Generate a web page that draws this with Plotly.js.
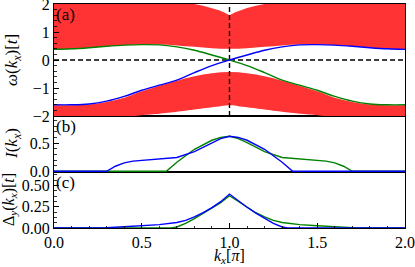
<!DOCTYPE html>
<html><head><meta charset="utf-8">
<script src="https://cdn.plot.ly/plotly-3.0.1.min.js"></script>
<style>html,body{margin:0;padding:0;background:#fff;}#chart{width:415px;height:267px;}</style>
</head><body><div id="chart"></div>
<script>
// ---- data ----
const k = [0,0.1,0.2,0.3,0.4,0.5,0.6,0.7,0.8,0.9,1.0,1.1,1.2,1.3,1.4,1.5,1.6,1.7,1.8,1.9,2.0];
// upper continuum band: lower edge (on k grid) and upper edge
const upperBandLow = [0.38,0.40,0.44,0.49,0.53,0.55,0.55,0.52,0.47,0.42,0.40,0.42,0.47,0.52,0.55,0.55,0.53,0.49,0.44,0.40,0.38];
const kTop = [0,0.8,0.85,0.9,0.94,0.97,1.0,1.03,1.06,1.1,1.15,1.2,2.0];
const upperBandTop = [2,2,1.94,1.86,1.78,1.7,1.6,1.7,1.78,1.86,1.94,2,2];
// lower continuum band: upper edge (on k grid) and lower edge
const lowerBandTop = [-1.62,-1.615,-1.59,-1.5,-1.35,-1.12,-0.92,-0.74,-0.58,-0.47,-0.43,-0.47,-0.58,-0.74,-0.92,-1.12,-1.35,-1.5,-1.59,-1.615,-1.62];
const kBot = [0,0.45,0.5,0.6,0.7,0.8,0.9,0.95,1.0,1.05,1.1,1.2,1.3,1.4,1.5,1.55,2.0];
const lowerBandBot = [-2,-2,-1.97,-1.92,-1.85,-1.77,-1.69,-1.65,-1.62,-1.65,-1.69,-1.77,-1.85,-1.92,-1.97,-2,-2];
// edge-state dispersions
const omegaGreen = [0.38,0.40,0.44,0.49,0.53,0.55,0.54,0.47,0.35,0.18,0.0,-0.2,-0.45,-0.72,-0.9,-1.08,-1.3,-1.47,-1.57,-1.6,-1.6];
const omegaBlue  = [-1.6,-1.6,-1.57,-1.47,-1.3,-1.08,-0.9,-0.72,-0.45,-0.2,0.0,0.18,0.35,0.47,0.54,0.55,0.53,0.49,0.44,0.40,0.38];
// guide lines
const zeroK = [0,2], zeroW = [0,0];
const nodeK = [1,1], nodeW = [-2,2];
// panel (b) I(kx)
const kIBlue = [0,0.3,0.35,0.4,0.45,0.5,0.6,0.7,0.8,0.9,0.95,1.0,1.05,1.1,1.2,1.3,1.36,2.0];
const IBlue  = [0,0,0.09,0.15,0.18,0.195,0.215,0.245,0.35,0.51,0.58,0.62,0.6,0.55,0.39,0.16,0,0];
const kIGreen = [0,0.64,0.7,0.8,0.9,0.95,1.0,1.05,1.1,1.2,1.3,1.4,1.5,1.55,1.6,1.65,1.7,2.0];
const IGreen  = [0,0,0.16,0.39,0.55,0.6,0.62,0.58,0.51,0.35,0.245,0.215,0.195,0.18,0.15,0.09,0,0];
// panel (c) Delta_y(kx)
const kDBlue = [0,0.2,0.3,0.4,0.5,0.6,0.7,0.75,0.8,0.85,0.9,0.95,1.0,1.05,1.1,1.15,1.2,1.25,1.3,1.33,2.0];
const DBlue  = [0,0,0.005,0.015,0.027,0.04,0.065,0.09,0.13,0.18,0.24,0.31,0.40,0.32,0.245,0.175,0.11,0.055,0.012,0,0];
const kDGreen = [0,0.67,0.7,0.75,0.8,0.85,0.9,0.95,1.0,1.05,1.1,1.15,1.2,1.25,1.3,1.4,1.5,1.6,1.7,1.8,2.0];
const DGreen  = [0,0,0.012,0.055,0.11,0.175,0.235,0.3,0.38,0.31,0.24,0.18,0.13,0.09,0.065,0.04,0.027,0.015,0.005,0,0];

const RED='#ff3333', GREEN='#008000', BLUE='#0000ff';
const traces = [
  {x:kTop, y:upperBandTop, xaxis:'x3', yaxis:'y3', mode:'lines', line:{width:0}},
  {x:k, y:upperBandLow, xaxis:'x3', yaxis:'y3', mode:'lines', line:{width:0, shape:'spline'}, fill:'tonexty', fillcolor:RED},
  {x:k, y:lowerBandTop, xaxis:'x3', yaxis:'y3', mode:'lines', line:{width:0, shape:'spline'}},
  {x:kBot, y:lowerBandBot, xaxis:'x3', yaxis:'y3', mode:'lines', line:{width:0, shape:'spline', smoothing:0.6}, fill:'tonexty', fillcolor:RED},
  {x:zeroK, y:zeroW, xaxis:'x3', yaxis:'y3', mode:'lines', line:{color:'#000', width:1.4, dash:'5px,3px'}},
  {x:nodeK, y:nodeW, xaxis:'x3', yaxis:'y3', mode:'lines', line:{color:'#000', width:1.4, dash:'5px,3px'}},
  {x:k, y:omegaGreen, xaxis:'x3', yaxis:'y3', mode:'lines', line:{color:GREEN, width:1.4, shape:'spline'}},
  {x:k, y:omegaBlue, xaxis:'x3', yaxis:'y3', mode:'lines', line:{color:BLUE, width:1.4, shape:'spline'}},
  {x:kIGreen, y:IGreen, xaxis:'x2', yaxis:'y2', mode:'lines', line:{color:GREEN, width:1.4}},
  {x:kIBlue, y:IBlue, xaxis:'x2', yaxis:'y2', mode:'lines', line:{color:BLUE, width:1.4}},
  {x:kDGreen, y:DGreen, xaxis:'x', yaxis:'y', mode:'lines', line:{color:GREEN, width:1.4}},
  {x:kDBlue, y:DBlue, xaxis:'x', yaxis:'y', mode:'lines', line:{color:BLUE, width:1.4}}
];

const FONT = 'Liberation Serif, Times New Roman, serif';
const tf = {family:FONT, size:16, color:'#000'};
const base = {showline:true, linecolor:'#000', linewidth:1, mirror:true, zeroline:false, showgrid:false,
  ticks:'inside', ticklen:5, tickwidth:1, tickcolor:'#000', tickfont:tf, ticklabeloverflow:'allow'};
const minorTicks = d => ({ticks:'inside', ticklen:2.5, tickwidth:0.8, tickcolor:'#000', dtick:d, showgrid:false});

const layout = {
  width:415, height:267, margin:{l:54, r:10, t:4, b:39},
  paper_bgcolor:'#fff', plot_bgcolor:'#fff', showlegend:false,
  font:{family:FONT, color:'#000'},
  xaxis:Object.assign({}, base, {domain:[0,1], anchor:'y', range:[0,2], tick0:0, dtick:0.5, tickformat:'.1f', minor:minorTicks(0.1)}),
  xaxis2:Object.assign({}, base, {domain:[0,1], anchor:'y2', range:[0,2], ticks:'', showticklabels:false, matches:'x'}),
  xaxis3:Object.assign({}, base, {domain:[0,1], anchor:'y3', range:[0,2], ticks:'', showticklabels:false, matches:'x'}),
  yaxis:Object.assign({}, base, {domain:[0,0.25], anchor:'x', range:[0,0.66], tick0:0, dtick:0.25, tickformat:'.2f', minor:minorTicks(0.0625)}),
  yaxis2:Object.assign({}, base, {domain:[0.25,0.5], anchor:'x2', range:[-0.012,0.98], tick0:0, dtick:0.5, tickformat:'.1f', minor:minorTicks(0.1)}),
  yaxis3:Object.assign({}, base, {domain:[0.5,1], anchor:'x3', range:[-2,2], tick0:0, dtick:1, minor:minorTicks(0.2)}),
  annotations:[
    {text:'<i>k</i><sub><i>x</i></sub>[<i>π</i>]', xref:'paper', yref:'paper', x:0.5, y:0, yanchor:'top', yshift:-17, showarrow:false, font:{family:FONT, size:16}},
    {text:'(a)', xref:'paper', yref:'paper', x:0, y:1, xanchor:'left', yanchor:'top', showarrow:false, font:{family:FONT, size:17}, yshift:1},
    {text:'(b)', xref:'paper', yref:'paper', x:0, y:0.5, xanchor:'left', yanchor:'top', showarrow:false, font:{family:FONT, size:17}, yshift:1},
    {text:'(c)', xref:'paper', yref:'paper', x:0, y:0.25, xanchor:'left', yanchor:'top', showarrow:false, font:{family:FONT, size:17}, yshift:1},
    {text:'<i>ω</i>(<i>k</i><sub><i>x</i></sub>)[<i>t</i>]', xref:'paper', yref:'paper', x:0, y:0.75, xshift:-41, xanchor:'center', yanchor:'middle', textangle:-90, showarrow:false, font:{family:FONT, size:17}},
    {text:'<i>I</i>(<i>k</i><sub><i>x</i></sub>)', xref:'paper', yref:'paper', x:0, y:0.375, xshift:-41, xanchor:'center', yanchor:'middle', textangle:-90, showarrow:false, font:{family:FONT, size:17}},
    {text:'Δ<sub><i>y</i></sub>(<i>k</i><sub><i>x</i></sub>)[<i>t</i>]', xref:'paper', yref:'paper', x:0, y:0.125, xshift:-45, xanchor:'center', yanchor:'middle', textangle:-90, showarrow:false, font:{family:FONT, size:16}}
  ]
};
Plotly.newPlot('chart', traces, layout, {staticPlot:true});
</script></body></html>
